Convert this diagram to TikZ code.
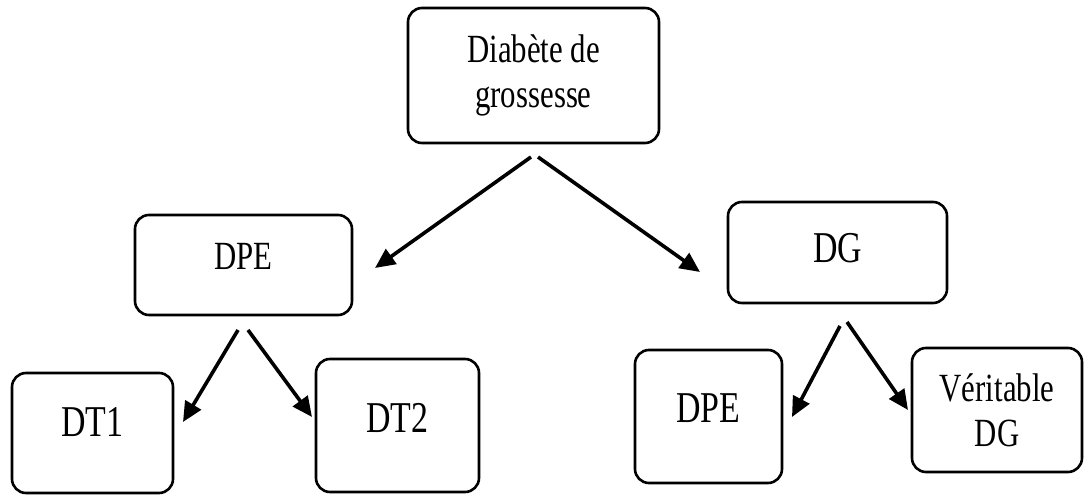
\documentclass[tikz,border=0pt]{standalone}
\usepackage{fontspec}
\setmainfont{Liberation Serif}[FakeStretch=0.77]
\usetikzlibrary{arrows.meta,calc}
\tikzset{
  box/.style={draw=black, line width=2.6pt, rounded corners=14pt, inner sep=0pt, align=center, font=\fontsize{40}{45}\selectfont},
  bigtxt/.style={font=\fontsize{44}{45}\selectfont},
  arr/.style={line width=3.6pt, -{Triangle[length=20pt,width=18pt]}}
}
\begin{document}
\begin{tikzpicture}[x=1pt,y=1pt]
\useasboundingbox (0,0) rectangle (1085,496);
\node[box, minimum width=251pt, minimum height=135pt] (top) at (533.5,420.5) {Diabète de\\grossesse};
\node[box, minimum width=217pt, minimum height=100pt, text depth=18pt] (dpeL) at (243.5,231) {DPE};
\node[box, bigtxt, minimum width=219pt, minimum height=101pt, text depth=10pt] (dg) at (837.5,243.5) {DG};
\node[box, bigtxt, minimum width=161pt, minimum height=120pt, text depth=22pt] (dt1) at (92.5,63) {DT1};
\node[box, bigtxt, minimum width=163pt, minimum height=133pt, text depth=16pt] (dt2) at (397.5,70.5) {DT2};
\node[box, bigtxt, minimum width=147pt, minimum height=133pt, text depth=16pt] (dpeR) at (708.5,79.5) {DPE};
\node[box, minimum width=170pt, minimum height=124pt] (ver) at (997,86) {Véritable\\DG};
% arrow end points
\coordinate (t1) at (531,339);
\coordinate (t2) at (538,339);
\coordinate (a1) at (375,228);
\coordinate (a2) at (700,224);
\coordinate (l1) at (238,166);
\coordinate (l2) at (248,166);
\coordinate (b1) at (183,74);
\coordinate (b2) at (312,79);
\coordinate (r1) at (840,170);
\coordinate (r2) at (847,174);
\coordinate (c1) at (792,79);
\coordinate (c2) at (908,86);
\draw[arr] (t1) -- (a1);
\draw[arr] (t2) -- (a2);
\draw[arr] (l1) -- (b1);
\draw[arr] (l2) -- (b2);
\draw[arr] (r1) -- (c1);
\draw[arr] (r2) -- (c2);
\end{tikzpicture}
\end{document}
